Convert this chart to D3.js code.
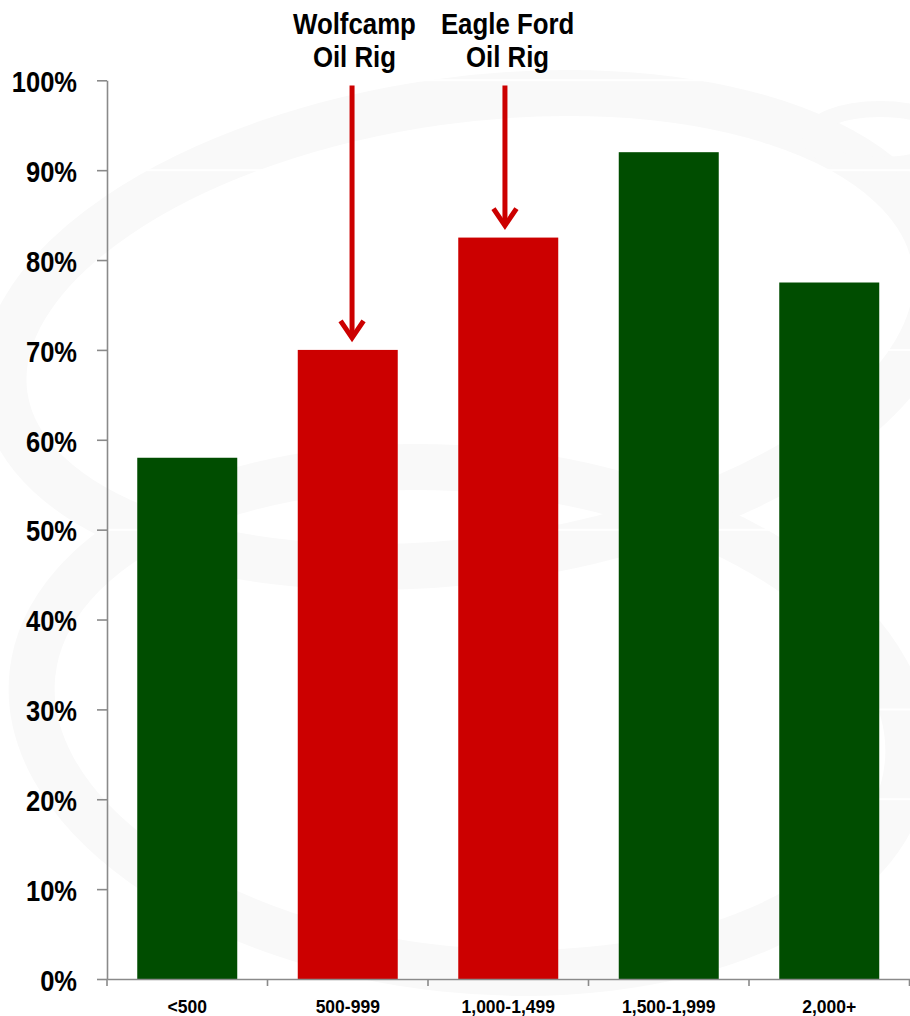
<!DOCTYPE html>
<html>
<head>
<meta charset="utf-8">
<script src="https://cdn.jsdelivr.net/npm/d3@7/dist/d3.min.js"></script>
<style>
  html, body { margin: 0; padding: 0; background: #ffffff; }
  svg { display: block; }
  text { font-family: "Liberation Sans", Arial, sans-serif; font-weight: bold; fill: #000; }
</style>
</head>
<body>
<svg id="chart" width="910" height="1016"></svg>
<script>
// ---- data ----
const categories = ["<500", "500-999", "1,000-1,499", "1,500-1,999", "2,000+"];
const values = [58, 70, 82.5, 92, 77.5];
const barColors = ["#004d00", "#cc0000", "#cc0000", "#004d00", "#004d00"];
const yTickValues = [0, 10, 20, 30, 40, 50, 60, 70, 80, 90, 100];
const annotationCategories = ["500-999", "1,000-1,499"];
const annotationLines = [["Wolfcamp", "Oil Rig"], ["Eagle Ford", "Oil Rig"]];

// ---- layout ----
const W = 910, H = 1016;
const plotLeft = 107, plotRight = 909.5, plotTop = 80.3, plotBottom = 979;
const arrowDx = [4.3, -3.3];
const textDx = [6.7, -0.7];

const svg = d3.select("#chart");

const x = d3.scaleBand().domain(categories).range([plotLeft, plotRight])
  .paddingInner(0.377).paddingOuter(0.1885);
const y = d3.scaleLinear().domain([0, 100]).range([plotBottom, plotTop]);

// ---- faint watermark ----
const wm = svg.append("g").attr("fill", "none").attr("stroke", "#f9f9f9");
wm.append("ellipse").attr("cx", 470).attr("cy", 330).attr("rx", 470).attr("ry", 230)
  .attr("stroke-width", 46).attr("transform", "rotate(-8 470 330)");
wm.append("ellipse").attr("cx", 470).attr("cy", 720).attr("rx", 440).attr("ry", 250)
  .attr("stroke-width", 46).attr("transform", "rotate(6 470 720)");
wm.append("ellipse").attr("cx", 880).attr("cy", 137).attr("rx", 70).attr("ry", 28)
  .attr("stroke-width", 16);

// ---- white gridlines ----
svg.append("g").selectAll("line").data(yTickValues).join("line")
  .attr("x1", plotLeft).attr("x2", W)
  .attr("y1", d => y(d)).attr("y2", d => y(d))
  .attr("stroke", "#ffffff").attr("stroke-width", 2);

// ---- bars ----
svg.append("g").selectAll("rect").data(categories).join("rect")
  .attr("x", d => x(d))
  .attr("width", x.bandwidth())
  .attr("y", (d, i) => y(values[i]))
  .attr("height", (d, i) => y(0) - y(values[i]))
  .attr("fill", (d, i) => barColors[i]);

// ---- y axis ----
const yAxis = svg.append("g").attr("transform", `translate(${plotLeft},0)`)
  .call(d3.axisLeft(y).tickValues(yTickValues).tickFormat(d => d + "%").tickSize(10).tickSizeOuter(0));
yAxis.select(".domain").attr("stroke", "#8a8a8a").attr("stroke-width", 1.6);
yAxis.selectAll(".tick line").attr("stroke", "#8a8a8a").attr("stroke-width", 1.6);
yAxis.selectAll(".tick text")
  .attr("font-size", 29).attr("font-family", null).attr("fill", "#000")
  .attr("x", -30 / 0.88).attr("dy", "0.39em")
  .attr("transform", "scale(0.88,1)");

// ---- x axis ----
const xAxis = svg.append("g").attr("transform", `translate(0,${plotBottom})`)
  .call(d3.axisBottom(x).tickSize(0).tickSizeOuter(0).tickPadding(22));
xAxis.select(".domain").attr("stroke", "#8a8a8a").attr("stroke-width", 1.6);
xAxis.selectAll(".tick text").attr("font-size", 17.5).attr("font-family", null).attr("fill", "#000")
  .attr("dy", "0.71em").attr("y", 21.5);
// category boundary ticks
const boundaries = d3.range(categories.length + 1).map(i => plotLeft + i * x.step());
xAxis.append("g").selectAll("line").data(boundaries).join("line")
  .attr("x1", d => d).attr("x2", d => d).attr("y1", 0).attr("y2", 7)
  .attr("stroke", "#8a8a8a").attr("stroke-width", 1.6);

// ---- annotations ----
const ann = svg.append("g");
annotationCategories.forEach((c, i) => {
  const idx = categories.indexOf(c);
  const cx = x(c) + x.bandwidth() / 2;
  const ax = cx + arrowDx[i];
  const tx = cx + textDx[i];
  const tipVisible = y(values[idx]) - 7.5;
  const tip = tipVisible - 4.5;
  annotationLines[i].forEach((t, j) => {
    ann.append("text")
      .attr("text-anchor", "middle")
      .attr("font-size", 29)
      .attr("transform", `translate(${tx},${34.3 + j * 32.4}) scale(0.89,1)`)
      .text(t);
  });
  ann.append("line")
    .attr("x1", ax).attr("x2", ax).attr("y1", 85.5).attr("y2", tip)
    .attr("stroke", "#cc0000").attr("stroke-width", 5);
  ann.append("path")
    .attr("d", `M${ax - 11.5},${tipVisible - 21.5}L${ax},${tip}L${ax + 11.5},${tipVisible - 21.5}`)
    .attr("fill", "none").attr("stroke", "#cc0000").attr("stroke-width", 5)
    .attr("stroke-linejoin", "miter");
});
</script>
</body>
</html>
